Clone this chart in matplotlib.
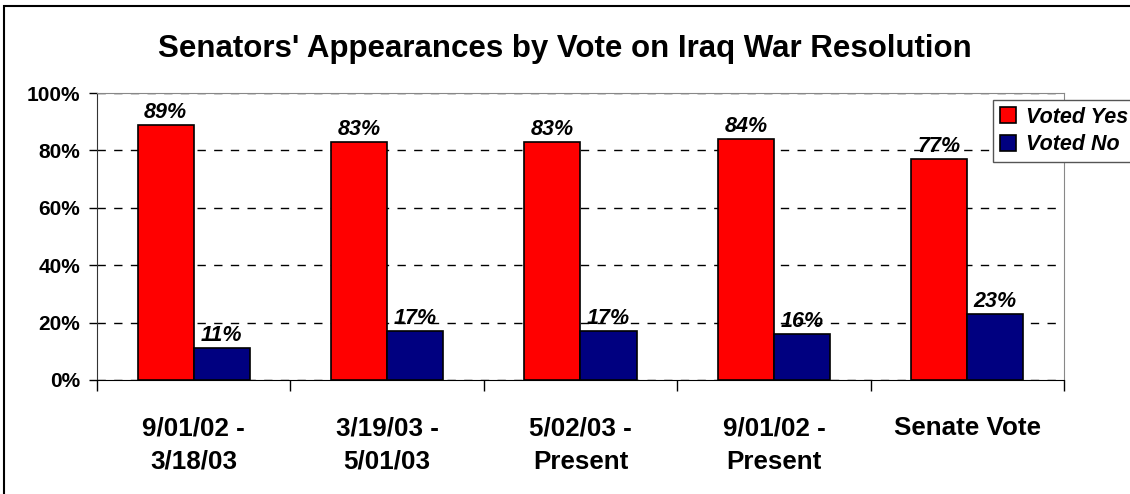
import matplotlib.pyplot as plt
import numpy as np
from matplotlib.patches import Rectangle
from matplotlib.ticker import PercentFormatter

# data
categories = ["9/01/02 -\n3/18/03", "3/19/03 -\n5/01/03", "5/02/03 -\nPresent",
              "9/01/02 -\nPresent", "Senate Vote"]
voted_yes = [89, 83, 83, 84, 77]
voted_no = [11, 17, 17, 16, 23]

plt.rcParams['font.family'] = ['Liberation Sans', 'DejaVu Sans']

fig = plt.figure(figsize=(11.3, 4.94), dpi=100)
ax = fig.add_axes([0.0858, 0.2308, 0.8558, 0.5809])

x = np.arange(len(categories))
w = 0.29
b1 = ax.bar(x - w / 2, voted_yes, w, color="#ff0000", edgecolor="black", linewidth=1.2,
            label="Voted Yes", zorder=3)
b2 = ax.bar(x + w / 2, voted_no, w, color="#000080", edgecolor="black", linewidth=1.2,
            label="Voted No", zorder=3)

# value labels above bars
for bars in (b1, b2):
    for r in bars:
        ax.annotate(f"{r.get_height():.0f}%", (r.get_x() + r.get_width() / 2, r.get_height()),
                    xytext=(0, 1.5), textcoords="offset points", ha="center", va="bottom",
                    fontsize=15.5, fontweight="bold", fontstyle="italic", zorder=4)

ax.set_xlim(-0.5, len(categories) - 0.5)
ax.set_ylim(0, 100)
ax.set_yticks([0, 20, 40, 60, 80, 100])
ax.yaxis.set_major_formatter(PercentFormatter(decimals=0))
ax.grid(axis="y", linestyle=(0, (6, 6)), color="black", linewidth=1, zorder=1)

ax.set_xticks(x)
ax.set_xticklabels(categories, fontsize=18.7, fontweight="bold", linespacing=1.5)
ax.set_xticks(np.arange(-0.5, len(categories)), minor=True)
ax.tick_params(axis="x", which="major", length=0, pad=26)
ax.tick_params(axis="x", which="minor", length=8, width=1, direction="out")
ax.tick_params(axis="y", length=6, width=1, direction="out", pad=6, labelsize=15)
for t in ax.get_yticklabels():
    t.set_fontweight("bold")

ax.spines["top"].set_color("#888888")
ax.spines["right"].set_color("#888888")
ax.spines["left"].set_color("#333333")
ax.spines["bottom"].set_color("black")

fig.text(0.50, 0.90, "Senators' Appearances by Vote on Iraq War Resolution",
         ha="center", va="center", fontsize=22.5, fontweight="bold")

leg = fig.legend(loc="upper left", bbox_to_anchor=(0.879, 0.797), frameon=True,
                 fancybox=False, edgecolor="#555555", framealpha=1,
                 prop={"size": 15.5, "weight": "bold", "style": "italic"},
                 handlelength=0.75, handleheight=0.75, handletextpad=0.45,
                 borderpad=0.3, labelspacing=0.3, borderaxespad=0)
leg.get_frame().set_linewidth(1)

# outer chart border (right and bottom fall off the image)
fig.patches.append(Rectangle((0.0035, -0.05), 1.1, 0.05 + 0.988, transform=fig.transFigure,
                             fill=False, edgecolor="black", linewidth=1.5))

fig.savefig("out.png", dpi=100)
